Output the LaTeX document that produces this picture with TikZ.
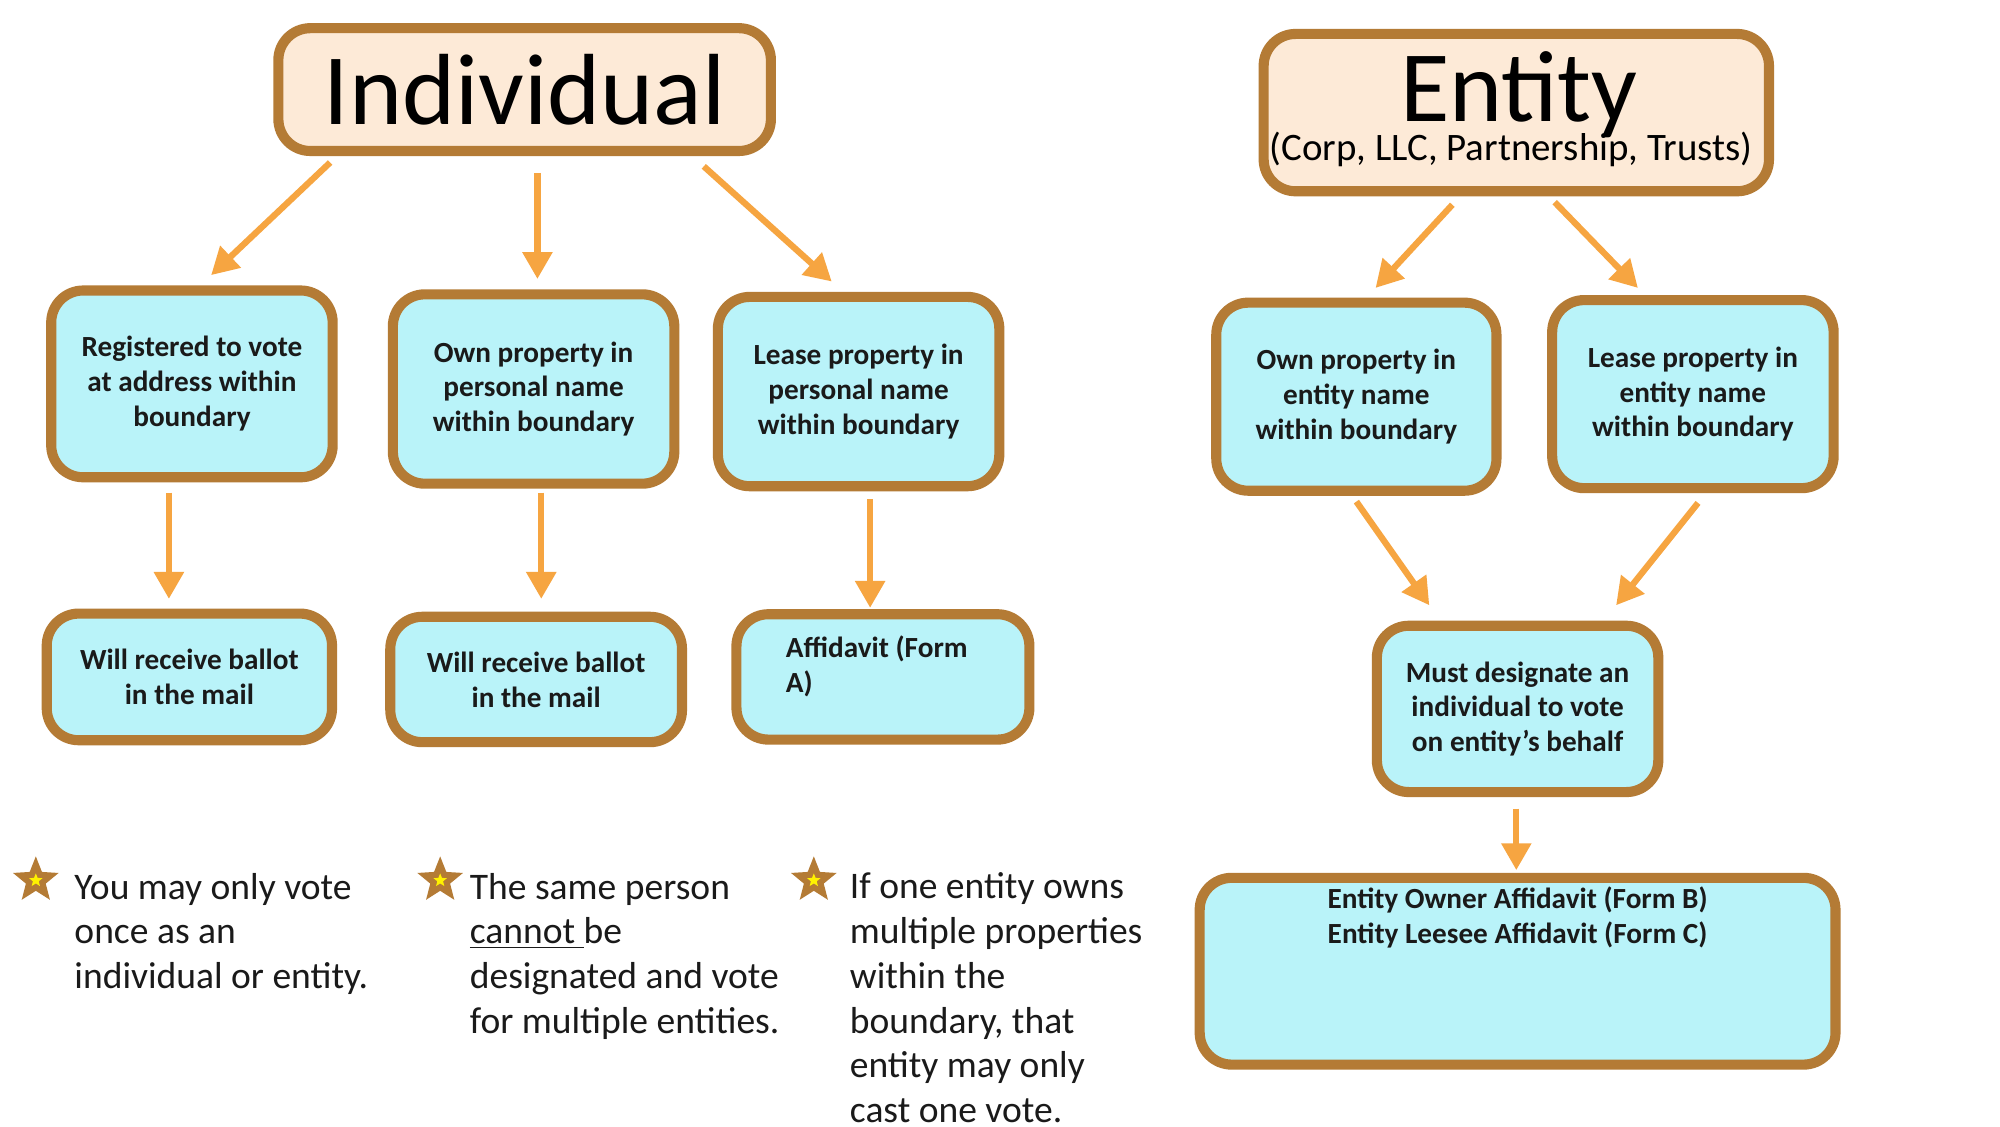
\documentclass[tikz,border=0pt]{standalone}
\usepackage{fontspec}
\setmainfont{Carlito}
\usetikzlibrary{shapes.geometric,arrows.meta}
\definecolor{bx}{HTML}{B9F3F9}
\definecolor{br}{HTML}{B47B35}
\definecolor{ttl}{HTML}{FDEAD7}
\definecolor{ar}{HTML}{F6A541}
\definecolor{tx}{HTML}{1A1A1A}
\begin{document}
\begin{tikzpicture}[x=0.02cm,y=-0.02cm,
 box/.style={draw=br,line width=4.5pt,fill=bx,rounded corners=0.5cm,align=center,font=\fontsize{13}{15.5}\selectfont\bfseries,text=tx},
 ttlbox/.style={draw=br,line width=4.5pt,fill=ttl,rounded corners=0.5cm,align=center,text=black},
 arr/.style={draw=ar,line width=2.8pt,-{Triangle[length=0.42cm,width=0.45cm]}},
 note/.style={anchor=north west,align=left,font=\fontsize{16.7}{19.9}\selectfont,text=tx},
 st/.style={star,star points=5,star point ratio=2.3,fill=br,minimum size=0.75cm,inner sep=0pt},
 sti/.style={star,star points=5,star point ratio=2.3,fill=yellow,minimum size=0.22cm,inner sep=0pt}]
\useasboundingbox (0,0) rectangle (1563,880);
\fill[white] (0,0) rectangle (1563,880);
\node[ttlbox,minimum width=7.7cm,minimum height=1.92cm,font=\fontsize{45}{50}\selectfont] (ind) at (410,70) {Individual};
\node[ttlbox,minimum width=7.9cm,minimum height=2.46cm] (ent) at (1185,88) {};
\node[font=\fontsize{45}{50}\selectfont] (entt) at (1187,74) {Entity};
\node[font=\fontsize{17.3}{20}\selectfont] (ents) at (1181,117) {(Corp, LLC, Partnership, Trusts)};
\node[box,minimum width=4.4cm,minimum height=2.92cm] (a) at (150,300) {Registered to vote\\at address within\\boundary};
\node[box,minimum width=4.4cm,minimum height=2.96cm] (b) at (417,304) {Own property in\\personal name\\within boundary};
\node[box,minimum width=4.4cm,minimum height=2.96cm] (c) at (671,306) {Lease property in\\personal name\\within boundary};
\node[box,minimum width=4.38cm,minimum height=2.94cm] (d) at (1060,310) {Own property in\\entity name\\within boundary};
\node[box,minimum width=4.4cm,minimum height=2.94cm] (e) at (1323,308) {Lease property in\\entity name\\within boundary};
\node[box,minimum width=4.46cm,minimum height=1.98cm] (f) at (148,529) {Will receive ballot\\in the mail};
\node[box,minimum width=4.56cm,minimum height=1.96cm] (g) at (419,531) {Will receive ballot\\in the mail};
\node[box,minimum width=4.58cm,minimum height=1.96cm] (h) at (690,529) {};
\node[anchor=north west,align=left,font=\fontsize{13}{15.5}\selectfont\bfseries,text=tx] (ht) at (608,491) {Affidavit (Form\\A)};
\node[box,minimum width=4.4cm,minimum height=2.6cm] (i) at (1186,554) {Must designate an\\individual to vote\\on entity’s behalf};
\node[box,minimum width=9.94cm,minimum height=2.92cm] (j) at (1186,759) {Entity Owner Affidavit (Form B)\\Entity Leesee Affidavit (Form C)\\[1.2cm]};
% arrows
\coordinate (p1) at (258,127); \coordinate (q1) at (165,215);
\coordinate (p2) at (420,135); \coordinate (q2) at (420,218);
\coordinate (p3) at (550,130); \coordinate (q3) at (650,220);
\coordinate (p4) at (132,385); \coordinate (q4) at (132,468);
\coordinate (p5) at (423,385); \coordinate (q5) at (423,468);
\coordinate (p6) at (680,390); \coordinate (q6) at (680,475);
\coordinate (p7) at (1135,160); \coordinate (q7) at (1075,225);
\coordinate (p8) at (1215,158); \coordinate (q8) at (1280,225);
\coordinate (p9) at (1060,392); \coordinate (q9) at (1117,473);
\coordinate (p10) at (1327,393); \coordinate (q10) at (1263,473);
\coordinate (p11) at (1185,632); \coordinate (q11) at (1185,680);
\foreach \k in {1,...,11} {\draw[arr] (p\k) -- (q\k);}
% notes
\node[st] (s1) at (28,688) {}; \node[sti] (s1i) at (28,688) {};
\node[st] (s2) at (344,688) {}; \node[sti] (s2i) at (344,688) {};
\node[st] (s3) at (636,688) {}; \node[sti] (s3i) at (636,688) {};
\node[note] (n1) at (52,676) {You may only vote\\once as an\\individual or entity.};
\node[note] (n2) at (361,676) {The same person\\\underline{cannot }be\\designated and vote\\for multiple entities.};
\node[note] (n3) at (658,676) {If one entity owns\\multiple properties\\within the\\boundary, that\\entity may only\\cast one vote.};
\end{tikzpicture}
\end{document}
